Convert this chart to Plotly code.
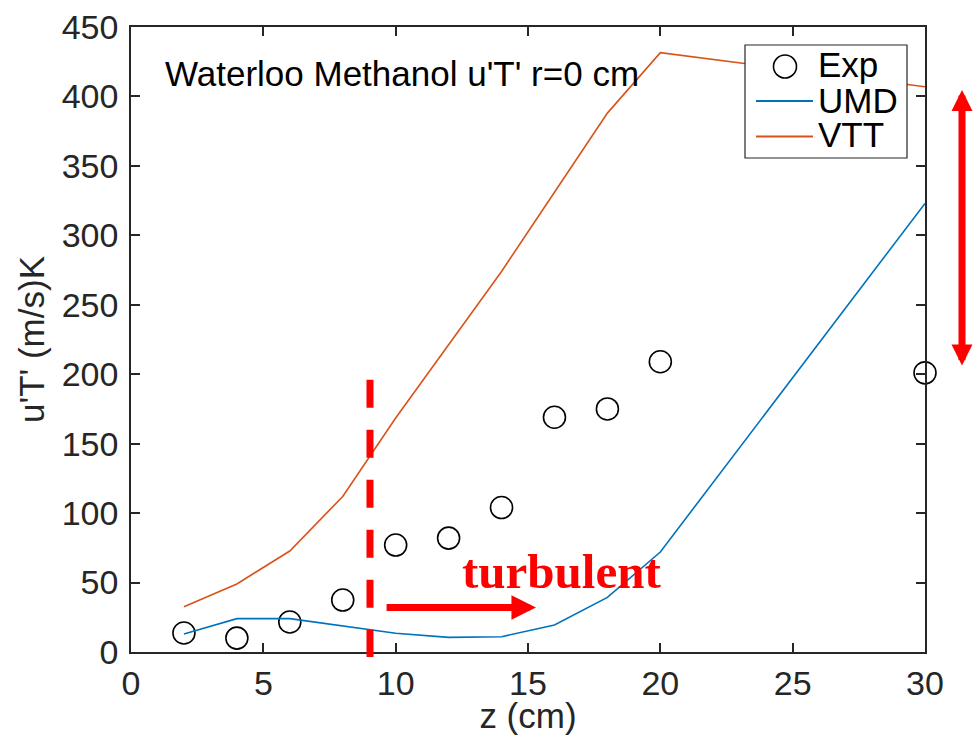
import plotly.graph_objects as go

# ---- data ----
z_exp = [2, 4, 6, 8, 10, 12, 14, 16, 18, 20, 30]
ut_exp = [13.7, 10, 21.6, 37.4, 77, 82, 104, 169, 175, 209, 201]

z_model = [2, 4, 6, 8, 10, 12, 14, 16, 18, 20, 30]
ut_umd = [13, 24, 24, 19, 13.5, 10.5, 11, 19.4, 39.3, 72, 323]
ut_vtt = [32.6, 49, 72.7, 112, 168.5, 221, 274, 331, 388, 431.5, 407]

x_ticks = [0, 5, 10, 15, 20, 25, 30]
y_ticks = [0, 50, 100, 150, 200, 250, 300, 350, 400, 450]
X_RANGE = [0, 30]
Y_RANGE = [0, 450]

legend_names = ["Exp", "UMD", "VTT"]

TITLE = "Waterloo Methanol u'T' r=0 cm"
TURB_Z = 9.03          # position of the dashed transition line
TURB_TOP = 196         # top of dashed line (data units)

UMD_C = "#0072BD"
VTT_C = "#D95319"
RED = "#FF0000"
FONT = "Liberation Sans"
AXC = "#262626"

W, H = 976, 735
ML, MR, MT, MB = 131, 51, 27, 83
PW = W - ML - MR
PH = H - MT - MB


def pxx(px):
    return (px - ML) / PW


def pxy(py):
    return (H - MB - py) / PH


fig = go.Figure()
fig.add_trace(go.Scatter(x=z_exp, y=ut_exp, mode="markers", name=legend_names[0],
                         cliponaxis=False,
                         marker=dict(symbol="circle-open", size=22, color="black",
                                     line=dict(width=1.6, color="black"))))
fig.add_trace(go.Scatter(x=z_model, y=ut_umd, mode="lines", name=legend_names[1],
                         line=dict(color=UMD_C, width=1.6)))
fig.add_trace(go.Scatter(x=z_model, y=ut_vtt, mode="lines", name=legend_names[2],
                         line=dict(color=VTT_C, width=1.6)))

axis_common = dict(showgrid=False, zeroline=False, showline=True, linecolor=AXC,
                   linewidth=1.5, mirror="ticks", ticks="inside", ticklen=9,
                   tickwidth=1.5, tickcolor=AXC, automargin=False,
                   tickfont=dict(family=FONT, size=34, color=AXC))

fig.update_xaxes(range=X_RANGE, tickvals=x_ticks, ticktext=[str(v) for v in x_ticks],
                 title=dict(text="z (cm)", font=dict(family=FONT, size=35, color=AXC),
                            standoff=4),
                 **axis_common)
fig.update_yaxes(range=Y_RANGE, tickvals=y_ticks, ticktext=[str(v) for v in y_ticks],
                 ticklabelstandoff=4,
                 title=dict(text="u'T' (m/s)K", font=dict(family=FONT, size=35, color=AXC),
                            standoff=6),
                 **axis_common)

shapes = []
# dashed transition line
x_paper = (TURB_Z - X_RANGE[0]) / (X_RANGE[1] - X_RANGE[0])
y_top_paper = (TURB_TOP - Y_RANGE[0]) / (Y_RANGE[1] - Y_RANGE[0])
shapes.append(dict(type="line", xref="paper", yref="paper",
                   x0=x_paper, x1=x_paper, y0=y_top_paper, y1=-0.008,
                   line=dict(color=RED, width=7, dash="28px,22px")))

# custom legend (box, symbols)
shapes.append(dict(type="rect", xref="paper", yref="paper",
                   x0=pxx(745), x1=pxx(907), y0=pxy(158), y1=pxy(45),
                   fillcolor="white", line=dict(color=AXC, width=1.2)))
shapes.append(dict(type="circle", xref="paper", yref="paper",
                   xsizemode="pixel", ysizemode="pixel",
                   xanchor=pxx(785), yanchor=pxy(66.5),
                   x0=-11.5, x1=11.5, y0=-11.5, y1=11.5,
                   line=dict(color="black", width=1.6)))
for yy, col in [(101, UMD_C), (136.5, VTT_C)]:
    shapes.append(dict(type="line", xref="paper", yref="paper",
                       x0=pxx(756), x1=pxx(813), y0=pxy(yy), y1=pxy(yy),
                       line=dict(color=col, width=1.8)))

annotations = [
    dict(text=TITLE, xref="paper", yref="paper", x=0.04, y=pxy(73),
         xanchor="left", yanchor="middle", showarrow=False,
         font=dict(family=FONT, size=35, color="black")),
    dict(text="<b>turbulent</b>", xref="x", yref="y", x=16.27, y=58,
         xanchor="center", yanchor="middle", showarrow=False,
         font=dict(family="Liberation Serif", size=49, color=RED)),
    # horizontal arrow
    dict(text="", xref="x", yref="y", x=15.3, y=32, axref="x", ayref="y",
         ax=9.6, ay=32, showarrow=True, arrowhead=2, arrowsize=0.7,
         arrowwidth=7, arrowcolor=RED),
    # vertical double arrow outside the plot
    dict(text="", xref="paper", yref="paper", x=pxx(962), y=pxy(90),
         axref="pixel", ayref="pixel", ax=0, ay=277, showarrow=True,
         arrowhead=2, startarrowhead=2, arrowside="end+start",
         arrowsize=0.6, startarrowsize=0.6, arrowwidth=7, arrowcolor=RED),
]
for name, yy in zip(legend_names, [65, 100, 135]):
    annotations.append(dict(text=name, xref="paper", yref="paper",
                            x=pxx(816), y=pxy(yy), xanchor="left", yanchor="middle",
                            showarrow=False,
                            font=dict(family=FONT, size=35, color="black")))

fig.update_layout(
    width=W, height=H,
    margin=dict(l=ML, r=MR, t=MT, b=MB),
    paper_bgcolor="white", plot_bgcolor="white",
    font=dict(family=FONT, color="black"),
    shapes=shapes,
    annotations=annotations,
    showlegend=False,
)

fig.write_html("out.html")
